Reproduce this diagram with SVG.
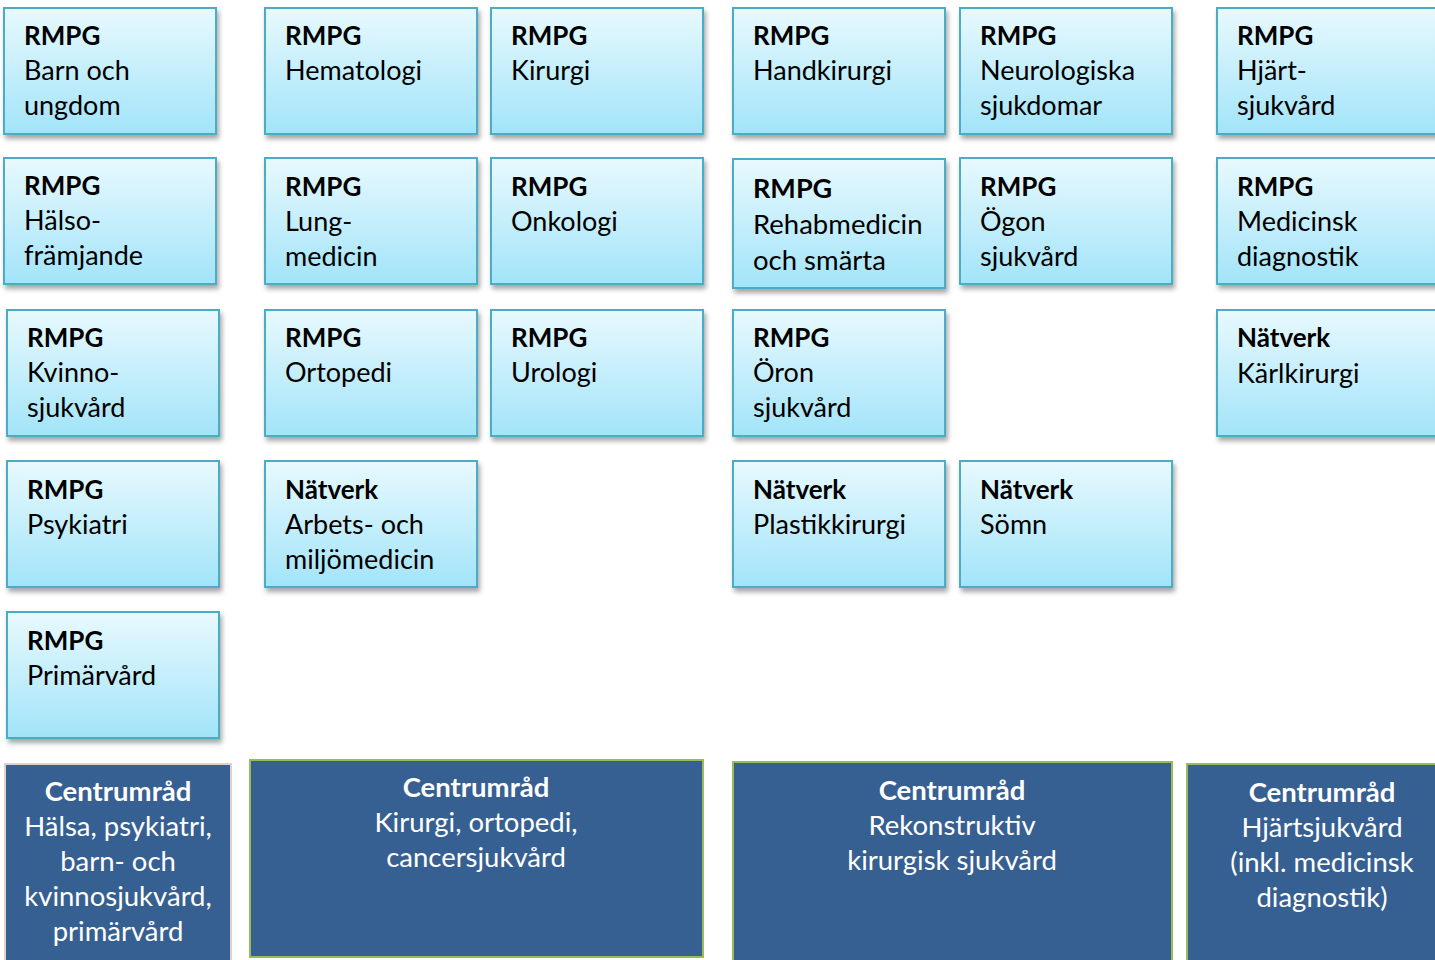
<svg xmlns="http://www.w3.org/2000/svg" width="1435" height="960" viewBox="0 0 1435 960">
<defs>
<linearGradient id="lb" x1="0" y1="0" x2="0" y2="1">
<stop offset="0" stop-color="#e8f9fe"/>
<stop offset="1" stop-color="#a2e4f9"/>
</linearGradient>
<filter id="sh" x="-10%" y="-10%" width="125%" height="130%">
<feDropShadow dx="2" dy="4" stdDeviation="2.5" flood-color="#000" flood-opacity="0.35"/>
</filter>
</defs>
<style>
.b{fill:url(#lb);stroke:#4bacc6;stroke-width:2;filter:url(#sh)}
.c{fill:#376092;stroke:#9bbb59;stroke-width:2}
.t{font-family:Lato,"Open Sans","Liberation Sans",sans-serif;font-size:27px;fill:#000}
.h{font-weight:bold;font-size:26px}
.w{font-family:Lato,"Open Sans","Liberation Sans",sans-serif;font-size:27.5px;fill:#fff;text-anchor:middle}
.w .h{font-size:27.5px}
</style>
<rect width="1435" height="960" fill="#fff"/>
<g id="connectors"/>
<g id="n-barn"><rect class="b" x="4" y="8" width="212" height="126"/><text class="t" x="24" y="45"><tspan class="h">RMPG</tspan><tspan x="24" y="80">Barn och</tspan><tspan x="24" y="115">ungdom</tspan></text></g>
<g id="n-hemat"><rect class="b" x="265" y="8" width="212" height="126"/><text class="t" x="285" y="45"><tspan class="h">RMPG</tspan><tspan x="285" y="80">Hematologi</tspan></text></g>
<g id="n-kirurgi"><rect class="b" x="491" y="8" width="212" height="126"/><text class="t" x="511" y="45"><tspan class="h">RMPG</tspan><tspan x="511" y="80">Kirurgi</tspan></text></g>
<g id="n-handkir"><rect class="b" x="733" y="8" width="212" height="126"/><text class="t" x="753" y="45"><tspan class="h">RMPG</tspan><tspan x="753" y="80">Handkirurgi</tspan></text></g>
<g id="n-neuro"><rect class="b" x="960" y="8" width="212" height="126"/><text class="t" x="980" y="45"><tspan class="h">RMPG</tspan><tspan x="980" y="80">Neurologiska</tspan><tspan x="980" y="115">sjukdomar</tspan></text></g>
<g id="n-hjart"><rect class="b" x="1217" y="8" width="222" height="126"/><text class="t" x="1237" y="45"><tspan class="h">RMPG</tspan><tspan x="1237" y="80">Hjärt-</tspan><tspan x="1237" y="115">sjukvård</tspan></text></g>

<g id="n-halso"><rect class="b" x="4" y="158" width="212" height="126"/><text class="t" x="24" y="195"><tspan class="h">RMPG</tspan><tspan x="24" y="230">Hälso-</tspan><tspan x="24" y="265">främjande</tspan></text></g>
<g id="n-lung"><rect class="b" x="265" y="158" width="212" height="126"/><text class="t" x="285" y="196"><tspan class="h">RMPG</tspan><tspan x="285" y="231">Lung-</tspan><tspan x="285" y="266">medicin</tspan></text></g>
<g id="n-onko"><rect class="b" x="491" y="158" width="212" height="126"/><text class="t" x="511" y="196"><tspan class="h">RMPG</tspan><tspan x="511" y="231">Onkologi</tspan></text></g>
<g id="n-rehab"><rect class="b" x="733" y="159" width="212" height="129"/><text class="t" x="753" y="198" style="font-size:27.5px"><tspan class="h" style="font-size:27px">RMPG</tspan><tspan x="753" y="234">Rehabmedicin</tspan><tspan x="753" y="270">och smärta</tspan></text></g>
<g id="n-ogon"><rect class="b" x="960" y="158" width="212" height="126"/><text class="t" x="980" y="196"><tspan class="h">RMPG</tspan><tspan x="980" y="231">Ögon</tspan><tspan x="980" y="266">sjukvård</tspan></text></g>
<g id="n-meddiag"><rect class="b" x="1217" y="158" width="222" height="126"/><text class="t" x="1237" y="196"><tspan class="h">RMPG</tspan><tspan x="1237" y="231">Medicinsk</tspan><tspan x="1237" y="266">diagnostik</tspan></text></g>

<g id="n-kvinno"><rect class="b" x="7" y="310" width="212" height="126"/><text class="t" x="27" y="347"><tspan class="h">RMPG</tspan><tspan x="27" y="382">Kvinno-</tspan><tspan x="27" y="417">sjukvård</tspan></text></g>
<g id="n-orto"><rect class="b" x="265" y="310" width="212" height="126"/><text class="t" x="285" y="347"><tspan class="h">RMPG</tspan><tspan x="285" y="382">Ortopedi</tspan></text></g>
<g id="n-uro"><rect class="b" x="491" y="310" width="212" height="126"/><text class="t" x="511" y="347"><tspan class="h">RMPG</tspan><tspan x="511" y="382">Urologi</tspan></text></g>
<g id="n-oron"><rect class="b" x="733" y="310" width="212" height="126"/><text class="t" x="753" y="347"><tspan class="h">RMPG</tspan><tspan x="753" y="382">Öron</tspan><tspan x="753" y="417">sjukvård</tspan></text></g>
<g id="n-karl"><rect class="b" x="1217" y="310" width="222" height="126"/><text class="t" x="1237" y="347"><tspan class="h">Nätverk</tspan><tspan x="1237" y="383">Kärlkirurgi</tspan></text></g>

<g id="n-psyk"><rect class="b" x="7" y="461" width="212" height="126"/><text class="t" x="27" y="499"><tspan class="h">RMPG</tspan><tspan x="27" y="534">Psykiatri</tspan></text></g>
<g id="n-arbets"><rect class="b" x="265" y="461" width="212" height="126"/><text class="t" x="285" y="499"><tspan class="h">Nätverk</tspan><tspan x="285" y="534">Arbets- och</tspan><tspan x="285" y="569">miljömedicin</tspan></text></g>
<g id="n-plastik"><rect class="b" x="733" y="461" width="212" height="126"/><text class="t" x="753" y="499"><tspan class="h">Nätverk</tspan><tspan x="753" y="534">Plastikkirurgi</tspan></text></g>
<g id="n-somn"><rect class="b" x="960" y="461" width="212" height="126"/><text class="t" x="980" y="499"><tspan class="h">Nätverk</tspan><tspan x="980" y="534">Sömn</tspan></text></g>

<g id="n-primar"><rect class="b" x="7" y="612" width="212" height="126"/><text class="t" x="27" y="650"><tspan class="h">RMPG</tspan><tspan x="27" y="685">Primärvård</tspan></text></g>

<g id="c-halsa"><rect class="c" x="5" y="764" width="226" height="206" style="stroke:#e4cfcf"/><text class="w" x="118" y="801"><tspan class="h">Centrumråd</tspan><tspan x="118" y="836">Hälsa, psykiatri,</tspan><tspan x="118" y="871">barn- och</tspan><tspan x="118" y="906">kvinnosjukvård,</tspan><tspan x="118" y="941">primärvård</tspan></text></g>
<g id="c-kirurgi"><rect class="c" x="250" y="760" width="453" height="197"/><text class="w" x="476" y="797"><tspan class="h">Centrumråd</tspan><tspan x="476" y="832">Kirurgi, ortopedi,</tspan><tspan x="476" y="867">cancersjukvård</tspan></text></g>
<g id="c-rekon"><rect class="c" x="733" y="762" width="439" height="206"/><text class="w" x="952" y="800"><tspan class="h">Centrumråd</tspan><tspan x="952" y="835">Rekonstruktiv</tspan><tspan x="952" y="870">kirurgisk sjukvård</tspan></text></g>
<g id="c-hjart"><rect class="c" x="1187" y="764" width="260" height="206"/><text class="w" x="1322" y="802"><tspan class="h">Centrumråd</tspan><tspan x="1322" y="837">Hjärtsjukvård</tspan><tspan x="1322" y="872">(inkl. medicinsk</tspan><tspan x="1322" y="907">diagnostik)</tspan></text></g>
</svg>
